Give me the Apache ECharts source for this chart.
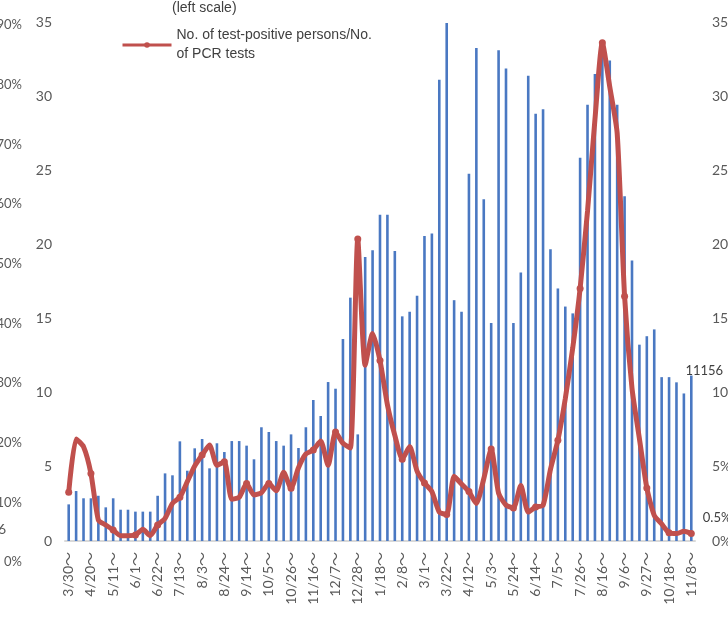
<!DOCTYPE html>
<html><head><meta charset="utf-8">
<script src="https://cdn.jsdelivr.net/npm/echarts@6/dist/echarts.min.js"></script>
<style>html,body{margin:0;padding:0;background:#fff}#c{width:728px;height:636px}</style>
</head><body><div id="c"></div>
<script>
const weeks = ["3/30","4/6","4/13","4/20","4/27","5/4","5/11","5/18","5/25","6/1","6/8","6/15","6/22","6/29","7/6","7/13","7/20","7/27","8/3","8/10","8/17","8/24","8/31","9/7","9/14","9/21","9/28","10/5","10/12","10/19","10/26","11/2","11/9","11/16","11/23","11/30","12/7","12/14","12/21","12/28","1/4","1/11","1/18","1/25","2/1","2/8","2/15","2/22","3/1","3/8","3/15","3/22","3/29","4/5","4/12","4/19","4/26","5/3","5/10","5/17","5/24","5/31","6/7","6/14","6/21","6/28","7/5","7/12","7/19","7/26","8/2","8/9","8/16","8/23","8/30","9/6","9/13","9/20","9/27","10/4","10/11","10/18","10/25","11/1","11/8"];
const pcrTests = [2.47,3.37,2.88,2.88,3.05,2.27,2.88,2.11,2.11,1.98,1.98,1.98,3.05,4.56,4.43,6.72,4.74,6.25,6.88,4.90,6.59,6.0,6.74,6.74,6.43,5.51,7.67,7.35,6.74,6.43,7.19,6.27,7.67,9.51,8.43,10.72,10.27,13.62,16.41,7.19,19.15,19.6,22.0,22.0,19.55,15.15,15.46,16.54,20.57,20.73,31.1,34.93,16.24,15.46,24.77,33.25,23.05,14.7,33.09,31.87,14.7,18.1,31.37,28.82,29.12,19.68,17.03,15.81,15.35,25.85,29.42,31.5,33.3,32.4,29.42,23.25,18.92,13.24,13.81,14.27,11.05,11.05,10.70,9.95,11.156];
const positiveRate = [3.28,6.88,6.36,4.56,1.42,1.08,0.74,0.36,0.36,0.40,0.79,0.36,1.08,1.53,2.54,2.95,4.00,5.06,5.80,6.47,5.1,5.35,2.81,2.95,3.87,3.10,3.26,3.87,3.39,4.63,3.55,4.94,5.87,6.14,6.74,5.10,7.35,6.59,6.27,20.36,11.85,14.0,12.18,9.19,7.12,5.52,6.37,4.71,3.91,3.33,1.95,1.79,4.36,3.84,3.33,2.53,4.20,6.2,3.22,2.42,2.23,3.74,1.95,2.30,2.41,4.83,6.79,9.60,13.0,17.03,22.26,28.42,33.6,30.63,27.5,16.5,10.3,6.9,3.57,1.73,1.15,0.55,0.5,0.65,0.5];
const lastBarLabel = "11156";
const lastRateLabel = "0.5%";
const lineName = "No. of test-positive persons/No.\nof PCR tests";
const barNoteText = "(left scale)";
const ghostTicks = [0,10,20,30,40,50,60,70,80,90];

const grey = '#595959';
const axisFont = 'Lato, "Noto Sans CJK JP", sans-serif';
const lastIdx = weeks.length - 1;

const chart = echarts.init(document.getElementById('c'));
chart.setOption({
  animation: false,
  backgroundColor: '#fff',
  grid: [
    {left: 65, right: 33, top: 22, bottom: 95, outerBoundsMode: 'none', containLabel: false},
    {left: 24, width: 1, top: 25, bottom: 74, outerBoundsMode: 'none', containLabel: false}
  ],
  legend: {
    data: [lineName],
    left: 116, top: 21,
    itemWidth: 49, itemHeight: 7, itemGap: 5,
    lineStyle: {width: 3},
    textStyle: {fontFamily: '"Liberation Sans", Arial, sans-serif', fontSize: 14, color: '#404040', lineHeight: 19}
  },
  graphic: [
    {type: 'text', left: 172, top: 1, style: {text: barNoteText, font: '14px "Liberation Sans", Arial, sans-serif', fill: '#404040'}},
    {type: 'text', left: -2, top: 522, style: {text: '6', font: '14px ' + axisFont, fill: grey}}
  ],
  xAxis: [
    {
      type: 'category', data: weeks, gridIndex: 0,
      axisLine: {lineStyle: {color: '#d9d9d9', width: 2}},
      axisTick: {show: false},
      axisLabel: {interval: 2, rotate: 90, margin: 11, color: grey, fontSize: 14, fontFamily: axisFont,
        formatter: v => v + '～'}
    },
    {type: 'category', data: ['a'], gridIndex: 1, show: false}
  ],
  yAxis: [
    {type: 'value', gridIndex: 0, min: 0, max: 35, interval: 5, position: 'left',
      axisLine: {show: false}, axisTick: {show: false}, splitLine: {show: false},
      axisLabel: {margin: 13, color: grey, fontSize: 14, fontFamily: axisFont}},
    {type: 'value', gridIndex: 0, min: 0, max: 35, interval: 5, position: 'right',
      axisLine: {show: false}, axisTick: {show: false}, splitLine: {show: false},
      axisLabel: {margin: 17, color: grey, fontSize: 14, fontFamily: axisFont, formatter: '{value}%'}},
    {type: 'value', gridIndex: 1, min: ghostTicks[0], max: ghostTicks[ghostTicks.length-1], interval: 10, position: 'left',
      axisLine: {show: false}, axisTick: {show: false}, splitLine: {show: false},
      axisLabel: {margin: 2, color: grey, fontSize: 13, fontFamily: axisFont, formatter: '{value}%'}}
  ],
  series: [
    {
      name: 'No. of PCR tests', type: 'bar', xAxisIndex: 0, yAxisIndex: 0,
      barWidth: 2.6,
      itemStyle: {color: '#4a78c2'},
      data: pcrTests.map((v, i) => i === lastIdx ? {value: v, label: {show: true, position: 'top', distance: 0, offset: [13, 2], formatter: lastBarLabel, color: '#404040', fontSize: 13, fontFamily: axisFont}} : v),
      z: 1
    },
    {
      name: lineName, type: 'line', xAxisIndex: 0, yAxisIndex: 1,
      smooth: 0.2,
      symbol: 'circle', symbolSize: 7,
      lineStyle: {color: '#c0504d', width: 5},
      itemStyle: {color: '#c0504d'},
      data: positiveRate.map((v, i) => i === lastIdx ? {value: v, label: {show: true, position: 'right', distance: 8, offset: [0, -16], formatter: lastRateLabel, color: '#404040', fontSize: 13, fontFamily: axisFont}} : v),
      z: 3
    },
    {type: 'bar', xAxisIndex: 1, yAxisIndex: 2, data: [0], silent: true}
  ]
});
</script></body></html>
